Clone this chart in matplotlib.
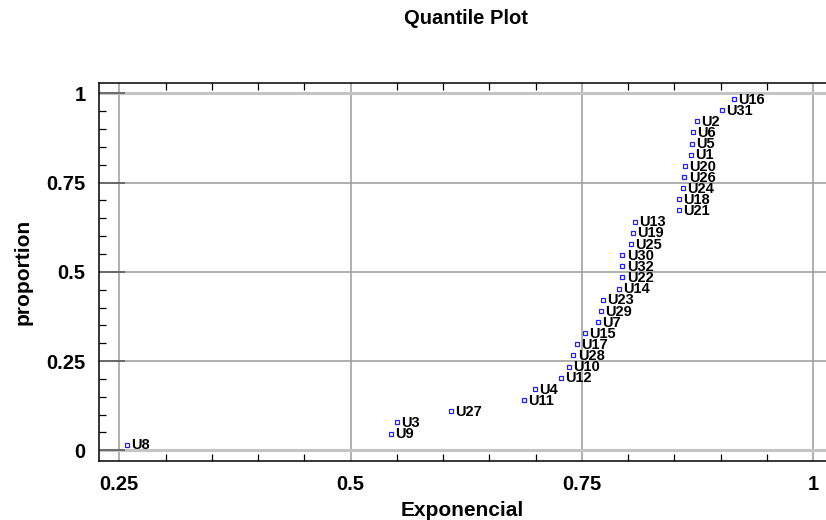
import matplotlib.pyplot as plt
from matplotlib.ticker import MultipleLocator, FuncFormatter

# 样本标签、指数分布分位数与累积比例
labels = ['U8', 'U9', 'U3', 'U27', 'U11', 'U4', 'U12', 'U10', 'U28', 'U17',
          'U15', 'U7', 'U29', 'U23', 'U14', 'U22', 'U32', 'U30', 'U25', 'U19',
          'U13', 'U21', 'U18', 'U24', 'U26', 'U20', 'U1', 'U5', 'U6', 'U2',
          'U31', 'U16']
expo = [0.258, 0.544, 0.550, 0.609, 0.688, 0.699, 0.727, 0.736, 0.741, 0.745,
        0.753, 0.768, 0.771, 0.773, 0.790, 0.794, 0.794, 0.794, 0.803, 0.805,
        0.808, 0.855, 0.855, 0.859, 0.861, 0.862, 0.868, 0.869, 0.870, 0.875,
        0.902, 0.915]
proportion = [0.0156, 0.0469, 0.0781, 0.1094, 0.1406, 0.1719, 0.2031, 0.2344,
              0.2656, 0.2969, 0.3281, 0.3594, 0.3906, 0.4219, 0.4531, 0.4844,
              0.5156, 0.5469, 0.5781, 0.6094, 0.6406, 0.6719, 0.7031, 0.7344,
              0.7656, 0.7969, 0.8281, 0.8594, 0.8906, 0.9219, 0.9531, 0.9844]
major_ticks = [0.25, 0.5, 0.75, 1]

plt.rcParams['font.family'] = ['Liberation Sans', 'DejaVu Sans']
plt.rcParams['font.weight'] = 'bold'

fig = plt.figure(figsize=(8.26, 5.2), dpi=100)
ax = fig.add_axes([0.1202, 0.1135, 0.8798, 0.7269])

# 网格线
for v in major_ticks:
    ax.axvline(v, color='#9a9a9a', lw=1.1, zorder=0)
for v in [0.25, 0.5, 0.75]:
    ax.axhline(v, color='#9a9a9a', lw=1.1, zorder=0)
for v in [0, 1]:
    ax.axhline(v, color='#c4c4c4', lw=2.2, zorder=0)

ax.plot(expo, proportion, 's', ls='none', ms=3.4, mfc='white',
        mec='#2020ff', mew=0.9, zorder=3)
for x, y, t in zip(expo, proportion, labels):
    ax.annotate(t, (x, y), xytext=(3, -0.5), textcoords='offset points',
                ha='left', va='center', fontsize=10.5, fontweight='bold',
                color='black', zorder=4)

ax.set_xlim(0.2284, 1.014)
ax.set_ylim(-0.030, 1.029)

ax.xaxis.set_major_locator(MultipleLocator(0.25))
ax.xaxis.set_minor_locator(MultipleLocator(0.05))
ax.yaxis.set_major_locator(MultipleLocator(0.25))
ax.yaxis.set_minor_locator(MultipleLocator(0.05))
fmt = FuncFormatter(lambda v, p: '%g' % round(v, 2))
ax.xaxis.set_major_formatter(fmt)
ax.yaxis.set_major_formatter(fmt)

ax.tick_params(which='both', direction='in', top=True, right=False,
               colors='black', labelsize=14.5)
ax.tick_params(axis='x', which='major', length=0, pad=10)
ax.tick_params(axis='y', which='major', length=19, width=1.1,
               color='#555555', pad=10)
ax.tick_params(which='minor', length=5, width=0.9)

ax.spines['right'].set_visible(False)
for s in ['left', 'bottom', 'top']:
    ax.spines[s].set_linewidth(1.1)

ax.set_xlabel('Exponencial', fontsize=15, fontweight='bold', labelpad=5)
ax.set_ylabel('proportion', fontsize=15, fontweight='bold', labelpad=10)
fig.text(0.5635, 0.965, 'Quantile Plot', ha='center', va='center',
         fontsize=14.5, fontweight='bold')

fig.savefig('out.png', dpi=100)
